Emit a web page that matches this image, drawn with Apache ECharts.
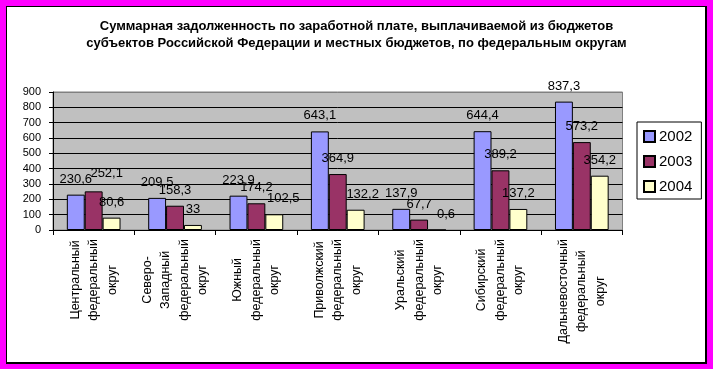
<!DOCTYPE html>
<html>
<head>
<meta charset="utf-8">
<script src="https://cdn.jsdelivr.net/npm/echarts@6/dist/echarts.min.js"></script>
<style>
html,body{margin:0;padding:0;background:#ff00ff;}
#chart{width:713px;height:369px;}
</style>
</head>
<body>
<div id="chart"></div>
<script>
var titleText = 'Суммарная задолженность по заработной плате, выплачиваемой из бюджетов\nсубъектов Российской Федерации и местных бюджетов, по федеральным округам';
var categories = [
  'Центральный\nфедеральный\nокруг',
  'Северо-\nЗападный\nфедеральный\nокруг',
  'Южный\nфедеральный\nокруг',
  'Приволжский\nфедеральный\nокруг',
  'Уральский\nфедеральный\nокруг',
  'Сибирский\nфедеральный\nокруг',
  'Дальневосточный\nфедеральный\nокруг'
];
var seriesNames = ['2002', '2003', '2004'];
var values2002 = [230.6, 209.5, 223.9, 643.1, 137.9, 644.4, 837.3];
var values2003 = [252.1, 158.3, 174.2, 364.9, 67.7, 389.2, 573.2];
var values2004 = [80.6, 33, 102.5, 132.2, 0.6, 137.2, 354.2];
var yTicks = [0, 100, 200, 300, 400, 500, 600, 700, 800, 900];

// label nudges (style only), as in the reference
var labelShift2003 = {0: [13, -2]};
var labelShift2004 = {2: [9, 0], 3: [7, 0], 4: [9, 0]};

var colors = ['#9999ff', '#993366', '#ffffcc'];
var FONT = '"Liberation Sans", Arial, sans-serif';

function buildData(vals, shifts) {
  return vals.map(function (v, i) {
    var item = {value: v};
    if (shifts && shifts[i]) item.label = {offset: shifts[i]};
    return item;
  });
}

function makeSeries(name, vals, color, shifts) {
  return {
    name: name,
    type: 'bar',
    data: buildData(vals, shifts),
    barGap: '0%',
    barCategoryGap: '34%',
    itemStyle: {color: color, borderColor: '#000', borderWidth: 1},
    label: {
      show: true,
      position: 'top',
      distance: 9,
      color: '#000',
      fontFamily: FONT,
      fontSize: 13,
      formatter: function (p) { return String(p.value).replace('.', ','); }
    }
  };
}

var splitColors = yTicks.map(function (t, i) { return i === yTicks.length - 1 ? '#808080' : '#000'; });

var chart = echarts.init(document.getElementById('chart'), null, {renderer: 'canvas'});
chart.setOption({
  backgroundColor: '#ff00ff',
  animation: false,
  graphic: [
    {type: 'rect', z: -20, silent: true, shape: {x: 6, y: 6, width: 701, height: 358}, style: {fill: '#000'}},
    {type: 'rect', z: -19, silent: true, shape: {x: 7, y: 7, width: 698, height: 355}, style: {fill: '#fff'}}
  ],
  title: {
    text: titleText,
    left: 'center',
    top: 18,
    padding: 0,
    textStyle: {fontFamily: FONT, fontSize: 13, fontWeight: 'bold', color: '#000', lineHeight: 17}
  },
  legend: {
    orient: 'vertical',
    left: 637,
    top: 122,
    padding: [7, 9, 5, 6],
    itemGap: 10,
    itemWidth: 11,
    itemHeight: 11,
    borderColor: '#000',
    borderWidth: 1,
    backgroundColor: '#fff',
    icon: 'rect',
    textStyle: {fontFamily: FONT, fontSize: 15, color: '#000', padding: [0, 0, 0, -1]},
    data: seriesNames
  },
  grid: {
    left: 53, top: 92, width: 569.5, height: 138,
    show: true, backgroundColor: '#c0c0c0', borderColor: '#808080', borderWidth: 1
  },
  xAxis: {
    type: 'category',
    data: categories,
    axisLine: {show: true, lineStyle: {color: '#000', width: 1}},
    axisTick: {show: true, length: 5, lineStyle: {color: '#000'}},
    splitLine: {show: false},
    axisLabel: {
      interval: 0,
      rotate: 90,
      margin: 9,
      color: '#000',
      formatter: function (v) {
        return v.split('\n').map(function (s) { return '{c|' + s + '}'; }).join('\n');
      },
      rich: {
        c: {align: 'center', fontFamily: FONT, fontSize: 12.5, lineHeight: 18.5, color: '#000'}
      }
    }
  },
  yAxis: {
    type: 'value',
    min: 0,
    max: 900,
    interval: 100,
    axisLine: {show: true, lineStyle: {color: '#000', width: 1}},
    axisTick: {show: true, length: 4, lineStyle: {color: '#000'}},
    splitLine: {show: true, lineStyle: {color: splitColors, width: 1}},
    axisLabel: {
      margin: 12, color: '#000', fontFamily: FONT, fontSize: 11,
      formatter: function (v) { return yTicks.indexOf(v) >= 0 ? String(v) : ''; }
    }
  },
  series: [
    makeSeries(seriesNames[0], values2002, colors[0], null),
    makeSeries(seriesNames[1], values2003, colors[1], labelShift2003),
    makeSeries(seriesNames[2], values2004, colors[2], labelShift2004)
  ]
});
</script>
</body>
</html>
